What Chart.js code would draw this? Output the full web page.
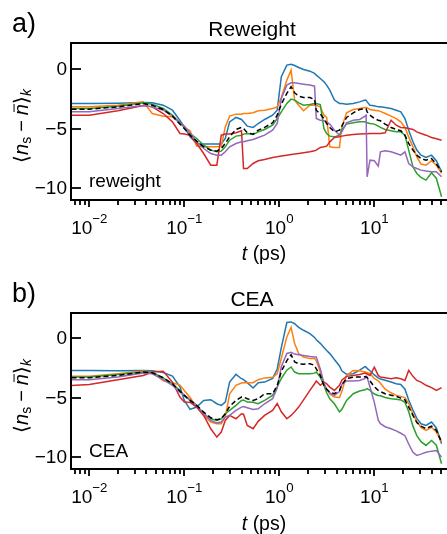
<!DOCTYPE html>
<html lang="en">
<head>
<meta charset="UTF-8">
<title>Reweight vs CEA</title>
<style>
  body { margin: 0; background: #fff; overflow: hidden; }
  .wrap { position: relative; width: 447px; height: 534px; font-family: "Liberation Sans", Arial, sans-serif; color: #000; }
  canvas { position: absolute; left: 0; }
  .txt { position: absolute; line-height: 1; white-space: nowrap; }
  .panel { font-size: 27px; left: 12px; }
  .title { font-size: 21px; transform: translateX(-50%); }
  .note { font-size: 19px; }
  .xlab { font-size: 19.5px; transform: translateX(-50%); }
  .ylab { font-size: 20px; transform: translate(-50%, -50%) rotate(-90deg); }
  .ylab sub { font-size: 0.7em; vertical-align: -0.28em; line-height: 1; }
  .ylab .op { margin: 0 0.25em; }
  .bar { position: relative; }
  .bar::after { content: ""; position: absolute; left: 0.14em; right: 0.0em; top: 0.2em; border-top: 1.3px solid #000; }
</style>
</head>
<body>
<div class="wrap">
  <canvas id="chartA" width="447" height="267" style="top:0"></canvas>
  <canvas id="chartB" width="447" height="264" style="top:270px"></canvas>

  <div class="txt panel" style="top:10px">a)</div>
  <div class="txt title" style="left:252px; top:18px">Reweight</div>
  <div class="txt note" style="left:89px; top:171px">reweight</div>
  <div class="txt xlab" style="left:264px; top:244px"><i>t</i> (ps)</div>
  <div class="txt ylab" style="left:22px; top:126px">⟨<i>n</i><sub>s</sub><span class="op">−</span><i class="bar">n</i>⟩<sub><i>k</i></sub></div>

  <div class="txt panel" style="top:280px">b)</div>
  <div class="txt title" style="left:252px; top:288px">CEA</div>
  <div class="txt note" style="left:89px; top:441px">CEA</div>
  <div class="txt xlab" style="left:264px; top:514px"><i>t</i> (ps)</div>
  <div class="txt ylab" style="left:22px; top:396px">⟨<i>n</i><sub>s</sub><span class="op">−</span><i class="bar">n</i>⟩<sub><i>k</i></sub></div>
</div>

<script src="https://cdn.jsdelivr.net/npm/chart.js"></script>
<script>
// time grid (ps), shared by both panels
const times = [0.0065, 0.01, 0.02, 0.037, 0.046, 0.06, 0.075, 0.09, 0.1, 0.115,
  0.135, 0.16, 0.19, 0.22, 0.245, 0.27, 0.3, 0.35, 0.4, 0.42,
  0.46, 0.53, 0.6, 0.7, 0.85, 0.95, 1.05, 1.2, 1.33, 1.45,
  1.6, 1.8, 2.1, 2.35, 2.45, 2.7, 2.95, 3.15, 3.4, 3.8,
  4.3, 4.55, 5.1, 6, 7, 8, 8.2, 8.4, 9, 10,
  11, 11.6, 13, 15, 17, 19, 21, 23, 25.5, 28,
  31, 35, 40, 45, 51];

// panel a) Reweight
const reweightBlue = [-2.88, -2.88, -2.86, -2.8, -2.83, -3.03, -3.45, -4.3, -4.85, -5.69,
  -6.25, -6.3, -6.3, -6.3, -6.3, -5.83, -4.43, -4.06, -4.23, -4.43,
  -4.79, -4.9, -4.57, -4.23, -3.87, -3.45, -0.64, 0.34, 0.42, 0.31,
  0.14, -0.03, -0.17, -0.36, -0.5, -0.78, -1.06, -1.34, -1.76, -2.6,
  -2.88, -2.88, -2.94, -2.88, -2.75, -2.6, -2.62, -2.75, -3.03, -3.08,
  -3.17, -3.17, -3.22, -3.3, -3.45, -3.59, -4.15, -5.13, -6.1, -6.8,
  -7.23, -7.42, -7.23, -7.7, -8.63];
const reweightOrange = [-3.17, -3.17, -3.03, -2.75, -3.73, -3.95, -4.0, -4.57, -4.9, -5.18,
  -6.47, -6.53, -6.53, -6.53, -6.47, -4.85, -3.95, -3.78, -3.78, -3.73,
  -3.73, -3.67, -3.5, -3.45, -3.3, -3.17, -2.38, -0.92, -0.08, -2.6,
  -3.03, -3.5, -3.03, -3.03, -3.03, -3.17, -3.87, -4.06, -6.53, -6.58,
  -6.58, -4.85, -3.67, -3.39, -3.3, -3.22, -3.22, -3.25, -3.39, -3.45,
  -3.5, -3.55, -3.73, -3.95, -4.15, -4.43, -4.9, -5.69, -6.53, -7.37,
  -7.98, -8.07, -7.7, -8.07, -8.77];
const reweightGreen = [-3.31, -3.31, -3.11, -2.83, -2.94, -3.31, -3.87, -4.51, -4.85, -5.41,
  -5.83, -6.39, -6.81, -6.95, -6.89, -6.53, -5.97, -5.63, -5.55, -5.46,
  -5.41, -5.5, -5.27, -5.07, -4.71, -4.15, -3.59, -2.88, -2.52, -2.6,
  -2.83, -3.03, -2.97, -2.88, -2.88, -2.97, -5.0, -5.41, -5.63, -5.69,
  -5.55, -5.07, -4.62, -4.51, -4.43, -4.43, -4.47, -4.51, -4.57, -4.62,
  -4.79, -4.9, -5.07, -5.18, -5.27, -5.27, -5.55, -6.81, -8.21, -8.77,
  -9.1, -9.33, -8.71, -9.19, -10.73];
const reweightRed = [-3.87, -3.87, -3.5, -3.05, -3.17, -3.73, -4.43, -5.41, -5.46, -5.55,
  -6.25, -7.09, -8.07, -8.07, -5.55, -5.46, -5.46, -5.35, -5.18, -8.35,
  -8.35, -7.93, -7.7, -7.59, -7.42, -7.37, -7.31, -7.23, -7.17, -7.14,
  -7.09, -7.03, -6.95, -6.86, -6.81, -6.58, -6.53, -6.47, -6.11, -5.74,
  -5.69, -5.63, -5.55, -5.5, -5.46, -5.43, -5.43, -5.43, -5.41, -5.41,
  -5.41, -5.41, -5.35, -4.29, -4.71, -4.9, -4.93, -4.99, -5.07, -5.27,
  -5.41, -5.55, -5.74, -5.85, -5.97];
const reweightPurple = [-3.59, -3.59, -3.31, -3.05, -3.17, -3.45, -3.95, -4.51, -4.79, -5.41,
  -6.11, -6.67, -7.09, -7.23, -7.23, -6.95, -6.53, -6.25, -6.11, -6.11,
  -6.02, -5.91, -5.74, -5.55, -5.13, -4.57, -2.46, -1.34, -1.15, -1.15,
  -1.2, -1.26, -1.34, -1.43, -4.15, -4.29, -4.34, -4.43, -4.62, -5.13,
  -5.55, -5.27, -4.51, -4.29, -4.23, -3.95, -3.87, -9.05, -7.65, -7.7,
  -8.15, -6.95, -6.86, -6.95, -7.09, -7.23, -6.95, -7.93, -8.21, -8.35,
  -8.49, -8.57, -8.63, -8.63, -9.05];
const reweightMean = [-3.36, -3.36, -3.17, -2.89, -3.03, -3.39, -3.95, -4.62, -4.99, -5.55,
  -6.05, -6.53, -6.81, -6.89, -6.67, -6.25, -5.69, -5.07, -4.9, -4.99,
  -5.35, -5.46, -5.13, -4.9, -4.51, -3.87, -2.94, -2.04, -1.48, -1.99,
  -2.27, -2.38, -2.38, -2.55, -3.45, -3.78, -4.15, -4.57, -4.9, -5.27,
  -5.13, -4.79, -4.06, -3.67, -3.39, -3.31, -3.33, -3.59, -3.87, -4.15,
  -4.29, -4.34, -4.62, -4.9, -5.07, -5.18, -5.55, -6.25, -6.81, -7.23,
  -7.51, -7.65, -7.51, -7.98, -8.63];

// panel b) CEA
const ceaBlue = [-2.72, -2.72, -2.75, -2.72, -2.75, -2.9, -3.2, -4.1, -5.24, -6.0,
  -5.8, -5.24, -5.18, -5.52, -5.66, -5.38, -3.7, -3.05, -3.42, -3.5,
  -3.75, -4.2, -3.75, -3.7, -3.4, -2.6, -0.8, 1.3, 1.35, 1.2,
  0.9, 0.65, 0.37, 0.05, -0.15, -0.45, -0.8, -1.05, -1.31, -1.8,
  -2.35, -2.75, -3.05, -3.0, -2.7, -2.4, -2.45, -2.55, -2.75, -3.1,
  -3.35, -3.45, -3.55, -3.7, -3.84, -3.9, -4.3, -5.2, -6.05, -6.75,
  -7.2, -7.34, -7.06, -7.55, -8.88];
const ceaOrange = [-3.22, -3.22, -3.0, -2.77, -2.85, -3.6, -3.75, -3.95, -4.4, -5.0,
  -5.8, -6.5, -7.06, -7.2, -7.2, -6.64, -4.68, -3.98, -3.78, -3.75,
  -3.75, -3.75, -3.5, -3.35, -3.3, -3.0, -1.7, 0.09, 0.9, -0.47,
  -1.3, -1.6, -1.73, -1.73, -1.9, -2.86, -3.8, -4.3, -4.7, -4.96,
  -5.0, -4.5, -3.14, -2.72, -2.75, -2.85, -2.88, -2.9, -3.0, -3.4,
  -3.6, -3.8, -4.3, -4.6, -4.82, -4.9, -5.0, -5.5, -6.4, -7.0,
  -7.5, -7.76, -7.5, -7.9, -8.74];
const ceaGreen = [-3.28, -3.28, -3.06, -2.86, -2.88, -3.34, -3.84, -4.4, -4.82, -5.24,
  -5.66, -6.36, -6.78, -6.92, -6.78, -6.36, -6.08, -5.66, -5.24, -5.2,
  -5.38, -5.4, -5.52, -5.24, -4.82, -4.1, -3.4, -2.7, -2.43, -2.86,
  -3.0, -3.0, -3.0, -2.95, -2.86, -3.3, -3.98, -4.6, -5.1, -5.52,
  -6.2, -6.0, -5.24, -4.68, -4.45, -4.35, -4.3, -4.25, -4.4, -4.7,
  -4.82, -4.85, -5.0, -5.1, -5.15, -5.2, -5.4, -6.2, -7.4, -8.2,
  -8.7, -9.02, -8.6, -9.0, -10.56];
const ceaRed = [-3.98, -3.9, -3.5, -3.14, -2.86, -2.8, -3.7, -4.96, -5.38, -5.4,
  -5.8, -6.5, -7.62, -8.32, -7.9, -6.92, -6.5, -6.78, -6.36, -6.4,
  -7.34, -7.62, -7.0, -6.5, -6.08, -5.5, -6.2, -6.78, -6.5, -6.2,
  -5.8, -5.2, -4.4, -3.84, -3.61, -3.97, -3.7, -3.84, -4.12, -4.4,
  -3.97, -3.55, -3.22, -3.14, -3.06, -2.94, -2.98, -3.02, -3.14, -2.44,
  -3.14, -3.28, -3.34, -3.42, -3.34, -3.42, -3.56, -2.72, -3.22, -3.56,
  -3.7, -3.97, -4.17, -4.4, -4.17];
const ceaPurple = [-3.5, -3.5, -3.28, -2.94, -3.0, -3.5, -3.98, -4.54, -4.82, -5.18,
  -5.66, -6.36, -6.92, -7.14, -7.05, -6.64, -6.5, -6.08, -5.8, -5.75,
  -5.85, -6.0, -5.95, -5.52, -5.1, -4.2, -2.4, -1.3, -1.2, -1.35,
  -1.4, -1.46, -1.55, -1.6, -1.6, -2.6, -3.8, -4.3, -4.6, -4.82,
  -4.5, -3.9, -3.6, -3.6, -3.56, -3.4, -3.2, -3.3, -4.12, -5.4,
  -6.9, -7.2, -7.45, -7.62, -7.8, -8.0, -8.2, -8.9, -9.6, -9.86,
  -9.75, -9.6, -9.5, -9.45, -10.0];
const ceaMean = [-3.33, -3.33, -3.14, -2.86, -2.92, -3.34, -3.84, -4.46, -4.82, -5.24,
  -5.66, -6.22, -6.7, -6.86, -6.78, -6.36, -5.74, -5.24, -4.96, -4.95,
  -5.1, -5.24, -5.1, -4.68, -4.68, -4.0, -2.8, -1.9, -1.4, -2.0,
  -2.16, -2.2, -2.16, -2.3, -2.6, -3.14, -3.98, -4.3, -4.54, -4.68,
  -4.4, -3.9, -3.4, -3.28, -3.28, -3.25, -3.28, -3.3, -3.6, -4.1,
  -4.4, -4.5, -4.68, -4.8, -4.9, -5.05, -5.2, -5.8, -6.5, -7.1,
  -7.4, -7.62, -7.4, -7.76, -8.74];

// axis ticks
const yTicks = [-10, -5, 0];
const xMajor = [0.01, 0.1, 1, 10];
const xMajorExp = ['\u22122', '\u22121', '0', '1'];

const colors = { blue: '#1f77b4', orange: '#ff7f0e', green: '#2ca02c', red: '#d62728', purple: '#9467bd' };
const FONT = '"Liberation Sans", Arial, sans-serif';

function pts(vals) {
  return times.map((t, i) => ({ x: t, y: vals[i] }));
}

function lineSet(vals, color, dash) {
  return {
    data: pts(vals),
    borderColor: color,
    borderWidth: 1.5,
    borderDash: dash || [],
    pointRadius: 0,
    fill: false,
    tension: 0
  };
}

function stroke(ctx, x1, y1, x2, y2) {
  ctx.beginPath();
  ctx.moveTo(x1, y1);
  ctx.lineTo(x2, y2);
  ctx.stroke();
}

// spines, inward y ticks, outward log x ticks and 10^n labels
const axesDeco = {
  id: 'axesDeco',
  afterDraw(chart) {
    const ctx = chart.ctx;
    const a = chart.chartArea;
    const xs = chart.scales.x;
    const ys = chart.scales.y;
    ctx.save();
    ctx.strokeStyle = '#000';
    ctx.lineWidth = 1.8;

    yTicks.forEach(v => {
      const py = Math.round(ys.getPixelForValue(v));
      stroke(ctx, a.left, py, a.left + 10, py);
    });

    for (let e = -3; e <= 1; e++) {
      for (let m = 2; m <= 9; m++) {
        const v = m * Math.pow(10, e);
        if (v < xs.min || v > xs.max) continue;
        const px = Math.round(xs.getPixelForValue(v));
        stroke(ctx, px, a.bottom, px, a.bottom + 5);
      }
    }
    xMajor.forEach(v => {
      const px = Math.round(xs.getPixelForValue(v));
      stroke(ctx, px, a.bottom, px, a.bottom + 7);
    });

    ctx.lineWidth = 2;
    ctx.beginPath();
    ctx.moveTo(a.right, a.top);
    ctx.lineTo(a.left, a.top);
    ctx.lineTo(a.left, a.bottom);
    ctx.lineTo(a.right, a.bottom);
    ctx.stroke();

    ctx.fillStyle = '#000';
    ctx.textBaseline = 'alphabetic';
    ctx.textAlign = 'left';
    xMajor.forEach((v, i) => {
      const px = xs.getPixelForValue(v);
      ctx.font = '19px ' + FONT;
      const w1 = ctx.measureText('10').width;
      ctx.font = '13.3px ' + FONT;
      const w2 = ctx.measureText(xMajorExp[i]).width;
      const x0 = px - (w1 + w2) / 2;
      const base = a.bottom + 34;
      ctx.font = '19px ' + FONT;
      ctx.fillText('10', x0, base);
      ctx.font = '13.3px ' + FONT;
      ctx.fillText(xMajorExp[i], x0 + w1, base - 11);
    });
    ctx.restore();
  }
};

function makePanel(id, s, yMax, axisH) {
  return new Chart(document.getElementById(id), {
    type: 'line',
    data: {
      datasets: [
        lineSet(s.mean, '#000', [5, 3]),
        lineSet(s.purple, colors.purple),
        lineSet(s.red, colors.red),
        lineSet(s.green, colors.green),
        lineSet(s.orange, colors.orange),
        lineSet(s.blue, colors.blue)
      ]
    },
    options: {
      responsive: false,
      devicePixelRatio: 1,
      animation: false,
      events: [],
      layout: { padding: { top: 43, left: 0, right: 0, bottom: 0 }, autoPadding: false },
      plugins: { legend: { display: false }, tooltip: { enabled: false }, title: { display: false } },
      scales: {
        x: {
          type: 'logarithmic',
          min: 0.00642,
          max: 58.2,
          grid: { display: false, drawTicks: false },
          border: { display: false },
          ticks: { display: false },
          afterFit: sc => { sc.height = axisH; }
        },
        y: {
          min: -11,
          max: yMax,
          grid: { display: false, drawTicks: false },
          border: { display: false },
          afterBuildTicks: sc => { sc.ticks = yTicks.map(v => ({ value: v })); },
          afterFit: sc => { sc.width = 71; },
          ticks: {
            padding: 4,
            labelOffset: 1,
            color: '#000',
            font: { family: FONT, size: 19 },
            callback: v => (v < 0 ? '\u2212' + Math.abs(v) : String(v))
          }
        }
      }
    },
    plugins: [axesDeco]
  });
}

makePanel('chartA', {
  blue: reweightBlue, orange: reweightOrange, green: reweightGreen,
  red: reweightRed, purple: reweightPurple, mean: reweightMean
}, 2.2, 67);

makePanel('chartB', {
  blue: ceaBlue, orange: ceaOrange, green: ceaGreen,
  red: ceaRed, purple: ceaPurple, mean: ceaMean
}, 2.1, 65);
</script>
</body>
</html>
